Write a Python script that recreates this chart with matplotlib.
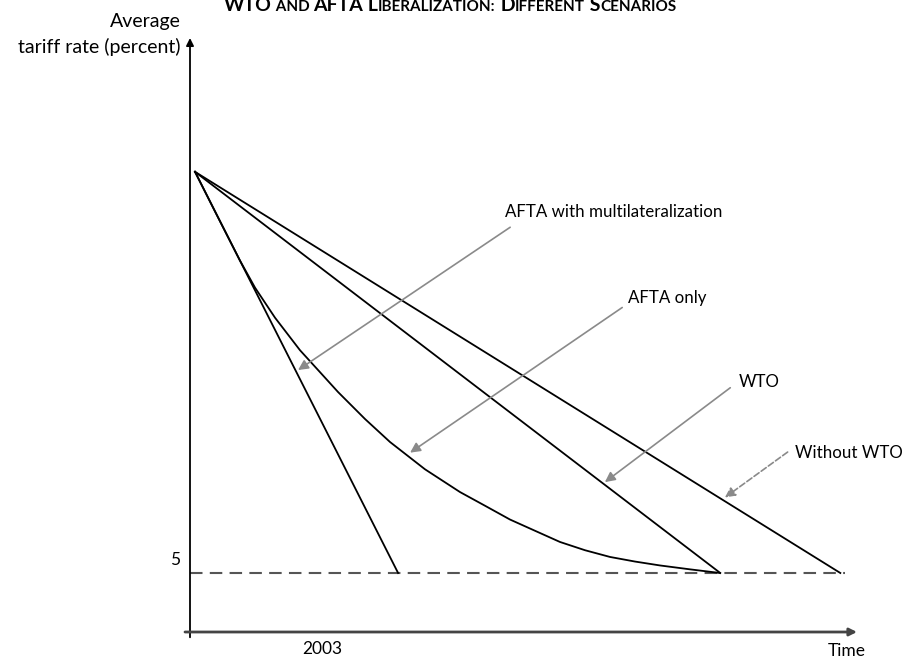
import matplotlib
matplotlib.use("Agg")
import matplotlib.pyplot as plt

plt.rcParams['font.family'] = ['Lato', 'DejaVu Sans']

# straight scenarios: start and end points (time units, tariff percent)
start_x, start_y = 0.75, 39.0
floor_rate = 5
multilat_end_x = 31.2
wto_end_x = 79.5
no_wto_end_x = 97.5
floor_end_x = 98.2

# AFTA only curve
afta_x = [0.75, 3.75, 7.50, 9.75, 12.74, 16.49, 19.49, 22.19, 26.24, 29.99, 35.23,
          40.48, 44.23, 47.98, 51.72, 55.47, 59.22, 62.97, 66.72, 70.46, 74.96, 79.46]
afta_y = [39.0, 35.64, 31.47, 29.18, 26.64, 23.88, 22.02, 20.34, 18.05, 16.10, 13.79,
          11.86, 10.70, 9.53, 8.58, 7.63, 6.93, 6.36, 5.97, 5.64, 5.31, 5.0]

# labels, text anchors, arrow start and tip
labels = ["AFTA with multilateralization", "AFTA only", "WTO", "Without WTO"]
label_xy = [(47.2, 35.6), (65.7, 28.3), (82.2, 21.2), (90.7, 15.2)]
arrow_from = [(48.0, 34.3), (64.8, 27.5), (81.0, 20.7), (89.6, 15.25)]
arrow_to = [(16.2, 22.2), (33.0, 15.2), (62.2, 12.7), (80.2, 11.4)]
arrow_dashed = [False, False, False, True]

title_parts = [("WTO", 1), (" and ", 0), ("AFTA", 1), (" L", 1), ("iberalization:", 0),
               (" D", 1), ("ifferent", 0), (" S", 1), ("cenarios", 0)]

fig = plt.figure(figsize=(9.03, 6.60), dpi=100)
ax = fig.add_axes([190 / 903, 28 / 660, 667 / 903, 594 / 660])
ax.set_xlim(0, 100)
ax.set_ylim(0, 594 / 11.8)
ax.axis('off')

# axes with arrow heads
ax.annotate('', xy=(0, 594 / 11.8), xytext=(0, -0.45),
            arrowprops=dict(arrowstyle='-|>', color='black', lw=1.3, mutation_scale=11,
                            shrinkA=0, shrinkB=0), annotation_clip=False)
ax.annotate('', xy=(100, 0), xytext=(-0.75, 0),
            arrowprops=dict(arrowstyle='-|>', color='#444444', lw=2.0, mutation_scale=11,
                            shrinkA=0, shrinkB=0), annotation_clip=False)

# 5 percent floor
ax.plot([0, floor_end_x], [floor_rate, floor_rate], color='#555555', lw=1.5,
        dashes=(6, 3.5), clip_on=False)

# scenarios
ax.plot([start_x, multilat_end_x], [start_y, floor_rate], color='black', lw=1.3)
ax.plot([start_x, wto_end_x], [start_y, floor_rate], color='black', lw=1.3)
ax.plot([start_x, no_wto_end_x], [start_y, floor_rate], color='black', lw=1.3)
ax.plot(afta_x, afta_y, color='black', lw=1.3, solid_joinstyle='round')

for txt, (tx, ty), a0, a1, dsh in zip(labels, label_xy, arrow_from, arrow_to, arrow_dashed):
    ax.text(tx, ty, txt, fontsize=12.2, ha='left', va='center')
    ax.annotate('', xy=a1, xytext=a0,
                arrowprops=dict(arrowstyle='-|>', color='#8a8a8a', lw=1.2, mutation_scale=15,
                                linestyle='--' if dsh else '-', shrinkA=0, shrinkB=0))

ax.text(-2.25, 6.1, "5", fontsize=12.5, ha='center', va='center')
ax.text(19.8, -1.4, "2003", fontsize=12.5, ha='center', va='center', clip_on=False)
ax.text(98.4, -1.6, "Time", fontsize=12.5, ha='center', va='center', clip_on=False)
fig.text(181 / 903, 1 - 22 / 660, "Average", fontsize=14, ha='right', va='center')
fig.text(181 / 903, 1 - 47 / 660, "tariff rate (percent)", fontsize=14, ha='right', va='center')

# title in small caps, cut by the top edge like the source
prev = fig.text(224 / 903, 1 - 11 / 660, title_parts[0][0], fontsize=14, fontweight='bold',
                va='baseline', ha='left')
for part, big in title_parts[1:]:
    txt = part if big else part.upper()
    prev = ax.annotate(txt, xy=(1, 660 - 11), xycoords=(prev, 'figure pixels'),
                       fontsize=14 if big else 11, fontweight='bold', va='baseline', ha='left',
                       annotation_clip=False)

fig.savefig('out.png', dpi=100)
